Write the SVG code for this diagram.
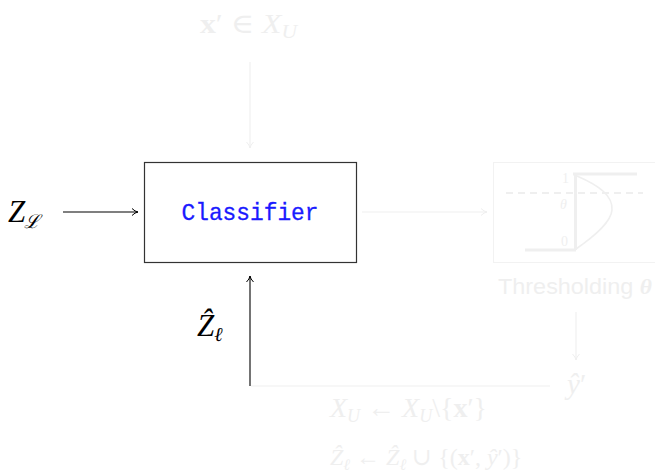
<svg xmlns="http://www.w3.org/2000/svg" width="655" height="476" viewBox="0 0 655 476">
  <defs>
    <marker id="tipDark" viewBox="0 0 10 10" refX="9" refY="5" markerWidth="10" markerHeight="10" markerUnits="userSpaceOnUse" orient="auto">
      <path d="M3,1.5 Q6,4.5 9,5 Q6,5.5 3,8.5" fill="none" stroke="#000" stroke-width="1"/>
    </marker>
    <marker id="tipFaint" viewBox="0 0 10 10" refX="9" refY="5" markerWidth="10" markerHeight="10" markerUnits="userSpaceOnUse" orient="auto">
      <path d="M3,1.5 Q6,4.5 9,5 Q6,5.5 3,8.5" fill="none" stroke="#efefef" stroke-width="1"/>
    </marker>
  </defs>
  <style>
    .math { font-family: "Liberation Serif", "DejaVu Serif", serif; font-style: italic; }
    .up { font-style: normal; }
    .bold { font-weight: bold; font-style: normal; }
    .dark { fill: #000; }
    .faint { fill: #efefef; }
    .lineDark { stroke: #000; stroke-width: 1.1; fill: none; }
    .lineFaint { stroke: #efefef; stroke-width: 1.1; fill: none; }
  </style>
  <rect width="655" height="476" fill="#fff"/>

  <!-- connectors -->
  <g id="connectors">
    <line class="lineDark" x1="63" y1="212" x2="138" y2="212" marker-end="url(#tipDark)"/>
    <line class="lineDark" x1="250" y1="386" x2="250" y2="276" marker-end="url(#tipDark)"/>
    <line class="lineFaint" x1="250" y1="62" x2="250" y2="148" marker-end="url(#tipFaint)"/>
    <line class="lineFaint" x1="362" y1="212" x2="487" y2="212" marker-end="url(#tipFaint)"/>
    <line class="lineFaint" x1="576" y1="312" x2="576" y2="360" marker-end="url(#tipFaint)"/>
    <line class="lineFaint" x1="251" y1="386" x2="550" y2="386"/>
  </g>

  <!-- sample drawn from the unlabelled pool -->
  <g id="query">
    <text class="math faint" x="200" y="33" font-size="28" textLength="97" lengthAdjust="spacingAndGlyphs"><tspan class="bold">x</tspan><tspan class="up">′ ∈ </tspan>X<tspan font-size="19" dy="5">U</tspan></text>
  </g>

  <!-- labelled input set -->
  <g id="labelled">
    <text class="math dark" x="8" y="222" font-size="31">Z<tspan font-size="19" dy="6" dx="-1" font-family="DejaVu Serif, serif">ℒ</tspan></text>
  </g>

  <!-- classifier -->
  <g id="classifier">
    <rect x="144.5" y="162.5" width="212" height="100" fill="#fff" stroke="#333" stroke-width="1.2"/>
    <text x="250" y="220" text-anchor="middle" font-family="Liberation Mono, monospace" font-size="24" fill="#1a1aff" stroke="#1a1aff" stroke-width="0.3" textLength="137" lengthAdjust="spacingAndGlyphs">Classifier</text>
  </g>

  <!-- pseudo-labelled set fed back -->
  <g id="pseudo">
    <text class="math dark" x="197" y="336" font-size="31">Ẑ<tspan font-size="20" dy="5">ℓ</tspan></text>
  </g>

  <!-- thresholding block -->
  <g id="threshold">
    <rect x="493.5" y="162.5" width="170" height="100" fill="none" stroke="#f2f2f2" stroke-width="1.1"/>
    <line x1="506" y1="193" x2="643" y2="193" stroke="#efefef" stroke-width="2" stroke-dasharray="7,5"/>
    <path d="M573,174 L637,174 M575.5,174 L575.5,250 M525,250 L576,250" fill="none" stroke="#efefef" stroke-width="3"/>
    <path d="M577,176 C600,186 613,196 612,210 C611,222 596,235 576,249" fill="none" stroke="#efefef" stroke-width="1.6"/>
    <text class="math faint up" x="562" y="183" font-size="14" font-style="normal">1</text>
    <text class="math faint" x="560" y="209" font-size="14">θ</text>
    <text class="math faint up" x="561" y="246" font-size="14" font-style="normal">0</text>
    <text class="faint" x="498" y="294" font-family="Liberation Sans, Arial, sans-serif" font-size="22" textLength="154" lengthAdjust="spacingAndGlyphs">Thresholding <tspan font-family="Liberation Serif, serif" font-style="italic" font-weight="bold">θ</tspan></text>
  </g>

  <!-- predicted label -->
  <g id="prediction">
    <text class="math faint" x="567" y="394" font-size="29">ŷ<tspan class="up">′</tspan></text>
  </g>

  <!-- update rules -->
  <g id="updates">
    <text class="math faint" x="330" y="417" font-size="28">X<tspan font-size="18" dy="5">U</tspan><tspan class="up" dy="-5"> ← </tspan>X<tspan font-size="18" dy="5">U</tspan><tspan class="up" dy="-5">\{</tspan><tspan class="bold">x</tspan><tspan class="up">′}</tspan></text>
    <text class="math faint" x="330" y="465" font-size="24">Ẑ<tspan font-size="16" dy="5">ℓ</tspan><tspan class="up" dy="-5"> ← </tspan>Ẑ<tspan font-size="16" dy="5">ℓ</tspan><tspan class="up" dy="-5"> ∪ {(</tspan><tspan class="bold">x</tspan><tspan class="up">′, </tspan>ŷ<tspan class="up">′)}</tspan></text>
  </g>
</svg>
